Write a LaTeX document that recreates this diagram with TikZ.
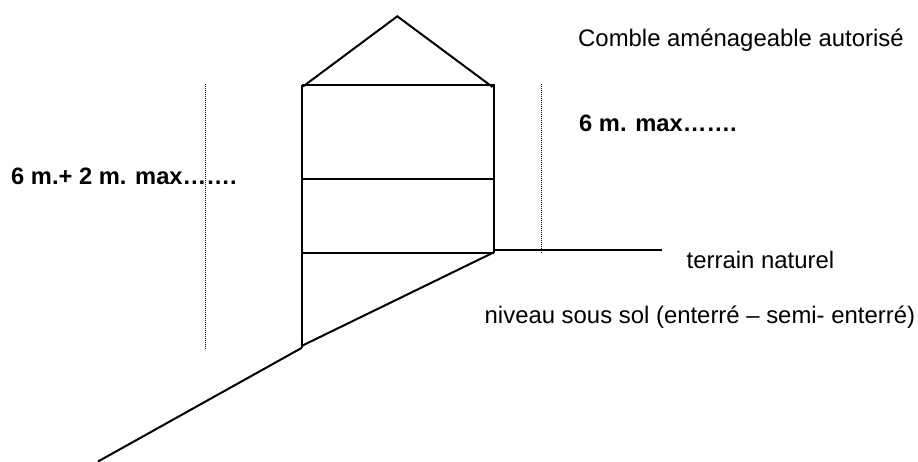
\documentclass[tikz,border=0pt]{standalone}
\usepackage{fontspec}
\setmainfont{Liberation Sans}
\tikzset{
  wall/.style={draw=black,line width=2pt,line join=miter},
  guide/.style={draw=black,line width=0.8pt,dash pattern=on 1pt off 1pt},
  label/.style={inner sep=0pt,anchor=base west,font=\fontsize{23.9}{26}\selectfont},
  boldlabel/.style={label,font=\fontsize{23.7}{26}\selectfont\bfseries}
}
\begin{document}
\begin{tikzpicture}[x=1pt,y=-1pt]
\useasboundingbox (0,0) rectangle (918,461);
\coordinate (apex) at (397.3,16.3);
\coordinate (rl) at (303,86.5);
\coordinate (rr) at (492.5,87);
\coordinate (tl) at (301.5,84.5);
\coordinate (tr) at (493.5,84.5);
\coordinate (ml) at (301.5,179);
\coordinate (mr) at (493.5,179);
\coordinate (bl) at (301.5,252.5);
\coordinate (br) at (493.5,252.5);
\coordinate (foot) at (301.5,348);
\coordinate (foot2) at (301.5,346);
\coordinate (low) at (98,461.5);
\coordinate (gs) at (493,250);
\coordinate (ge) at (662,250);
\coordinate (g1a) at (205.5,84);
\coordinate (g1b) at (205.5,349.5);
\coordinate (g2a) at (541.5,84);
\coordinate (g2b) at (541.5,252.5);
\draw[wall] (rl) -- (apex) -- (rr);
\draw[wall] (tl) -- (tr) -- (br);
\draw[wall] (tl) -- (foot);
\draw[wall] (ml) -- (mr);
\draw[wall] (bl) -- (br);
\draw[wall] (br) -- (foot2);
\draw[wall] (foot) -- (low);
\draw[wall] (gs) -- (ge);
\draw[guide] (g1a) -- (g1b);
\draw[guide] (g2a) -- (g2b);
\node[label] (t1) at (578,46) {Comble aménageable autorisé};
\node[boldlabel] (t2) at (579,131) {6 m. max…….};
\node[boldlabel] (t3) at (11,184.5) {6 m.+ 2 m. max…….};
\node[label] (t4) at (686.5,268) {terrain naturel};
\node[label] (t5) at (484.5,323) {niveau sous sol (enterré – semi- enterré)};
\end{tikzpicture}
\end{document}
